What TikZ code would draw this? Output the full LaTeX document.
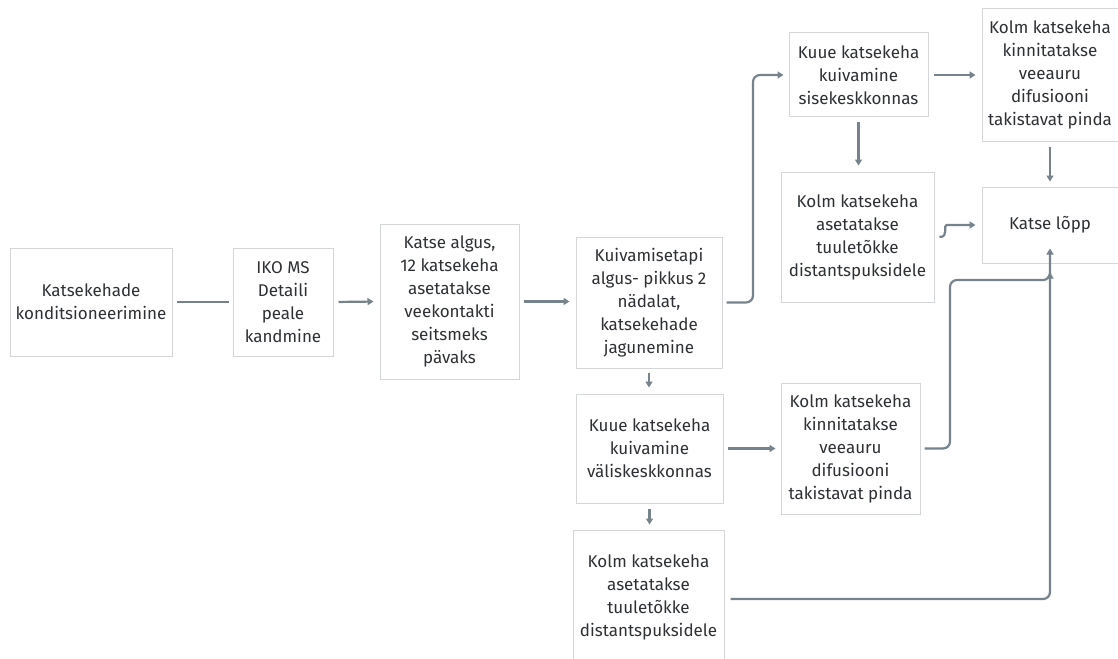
\documentclass[tikz,border=0pt]{standalone}
\usepackage{fontspec}
\setmainfont{Fira Sans}
\usetikzlibrary{arrows.meta}
\definecolor{boxc}{HTML}{D3D7DB}
\definecolor{linec}{HTML}{76838D}
\definecolor{txt}{HTML}{2E3134}
\tikzset{
  box/.style={draw=boxc, line width=1pt, fill=white, align=center, inner sep=0pt,
    text=txt, font=\fontsize{17}{23}\selectfont},
  conn/.style={draw=linec, line width=2.2pt, rounded corners=7pt},
  arr/.style={conn, -{Triangle[length=6pt,width=7pt]}},
}
\begin{document}
\begin{tikzpicture}[x=1pt,y=-1pt]
\useasboundingbox[fill=white] (0,0) rectangle (1118,658);
\node[box, minimum width=162pt, minimum height=108pt] (A) at (91,302) {Katsekehade\\konditsioneerimine};
\node[box, minimum width=100pt, minimum height=108pt] (B) at (283,302) {IKO MS\\Detaili\\peale\\kandmine};
\node[box, minimum width=139pt, minimum height=155pt] (C) at (449.5,301.5) {Katse algus,\\12 katsekeha\\asetatakse\\veekontakti\\seitsmeks\\pävaks};
\node[box, minimum width=146pt, minimum height=131pt] (D) at (649,302.5) {Kuivamisetapi\\algus- pikkus 2\\nädalat,\\katsekehade\\jagunemine};
\node[box, minimum width=139pt, minimum height=84pt] (E) at (858.5,75) {Kuue katsekeha\\kuivamine\\sisekeskkonnas};
\node[box, minimum width=136pt, minimum height=132pt] (F) at (1050,75) {Kolm katsekeha\\kinnitatakse\\veeauru\\difusiooni\\takistavat pinda};
\node[box, minimum width=153pt, minimum height=130pt] (G) at (857.5,237) {Kolm katsekeha\\asetatakse\\tuuletõkke\\distantspuksidele};
\node[box, minimum width=136pt, minimum height=76pt] (H) at (1050,225) {Katse lõpp};
\node[box, minimum width=147pt, minimum height=109pt] (I) at (649.5,448.5) {Kuue katsekeha\\kuivamine\\väliskeskkonnas};
\node[box, minimum width=139pt, minimum height=131pt] (J) at (850.5,448.5) {Kolm katsekeha\\kinnitatakse\\veeauru\\difusiooni\\takistavat pinda};
\node[box, minimum width=151pt, minimum height=134pt] (K) at (648.5,597) {Kolm katsekeha\\asetatakse\\tuuletõkke\\distantspuksidele};

\coordinate (dE) at (753,0);
\coordinate (jH) at (950,0);
\coordinate (hx) at (1050,0);
\coordinate (jy) at (0,280);

\draw[conn, shorten <=4pt, shorten >=4pt] (A.east) -- (B.west);
\draw[arr, shorten <=5pt, shorten >=6pt] (B.east) -- (C.west);
\draw[arr, shorten <=4pt, shorten >=6pt] (C.east) -- (D.west |- C.east);
\draw[arr] ([xshift=4pt]D.east) -| (dE |- E.west) -- ([xshift=-5pt]E.west);
\draw[arr, shorten <=5pt, shorten >=6pt] (E.east) -- (F.west |- E.east);
\draw[arr, shorten <=5pt, shorten >=6pt] (E.south) -- (E.south |- G.north);
\draw[arr, shorten <=5pt, shorten >=5pt] (F.south) -- (F.south |- H.north);
\draw[arr] ([xshift=5pt]G.east) .. controls ([xshift=15pt]G.east) and ([xshift=8pt,yshift=12pt]G.east) .. ([xshift=19pt,yshift=12pt]G.east) -- ([xshift=-6pt]H.west |- 0,225);
\draw[arr, shorten <=4pt, shorten >=6pt] (D.south) -- (D.south |- I.north);
\draw[arr, shorten <=4pt, shorten >=5pt] (I.east) -- (J.west |- I.east);
\draw[arr, shorten <=5pt, shorten >=5pt] (I.south) -- (I.south |- K.north);
\draw[arr] ([xshift=4pt]J.east) -| (jH |- jy) -| ([yshift=-9pt]hx |- H.south);
\draw[arr] ([xshift=6pt,yshift=-2pt]K.east) -| ([yshift=15pt]hx |- H.south);
\end{tikzpicture}
\end{document}
